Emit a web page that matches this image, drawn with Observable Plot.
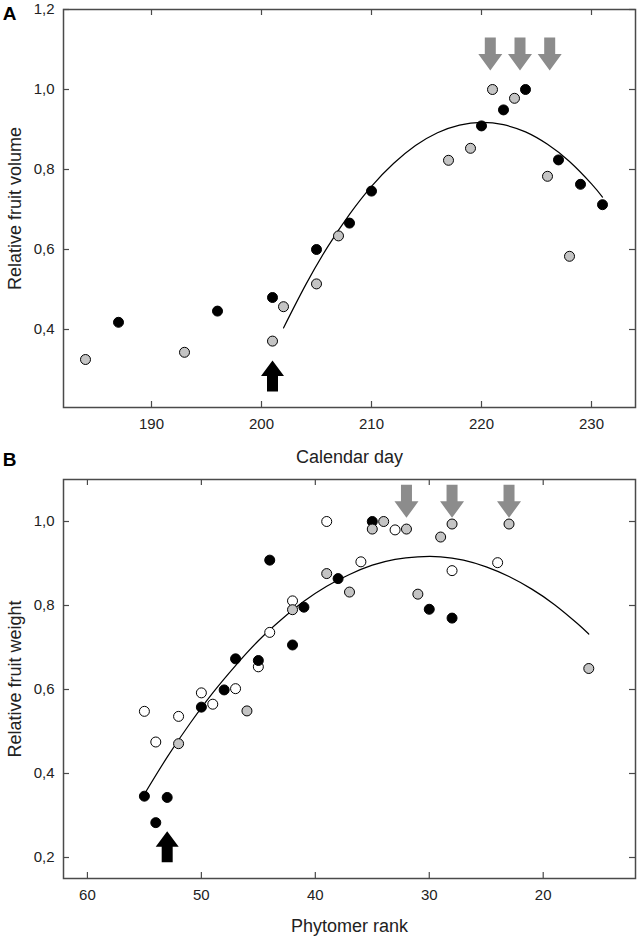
<!DOCTYPE html>
<html><head><meta charset="utf-8">
<script src="https://cdn.jsdelivr.net/npm/d3@7"></script>
<script src="https://cdn.jsdelivr.net/npm/@observablehq/plot@0.6"></script>
<style>
body{margin:0;background:#fff;font-family:"Liberation Sans",Arial,sans-serif}
svg{display:block}
</style>
</head><body><div id="chart"></div>
<script>
// ---------- Panel A data ----------
const aBlackDay = [187, 196, 201, 205, 208, 210, 220, 222, 224, 227, 229, 231];
const aBlackVal = [0.418, 0.446, 0.48, 0.6, 0.666, 0.746, 0.909, 0.949, 1.0, 0.824, 0.763, 0.712];
const aGrayDay = [184, 193, 201, 202, 205, 207, 217, 219, 221, 223, 226, 228];
const aGrayVal = [0.325, 0.343, 0.371, 0.457, 0.514, 0.634, 0.823, 0.853, 1.0, 0.978, 0.783, 0.583];
const aCurveDay = [202, 204, 206, 208, 210, 212, 214, 216, 218, 220, 222, 224, 226, 228, 230, 231];
const aCurveVal = [0.404, 0.511, 0.606, 0.688, 0.758, 0.815, 0.860, 0.892, 0.911, 0.918, 0.912, 0.894, 0.863, 0.820, 0.764, 0.731];
const aDownArrowDay = [220.8, 223.5, 226.2];
const aDownArrowVal = [1.089, 1.089, 1.089];
const aUpArrowDay = [201];
const aUpArrowVal = [0.284];
const aXTicks = [190, 200, 210, 220, 230];
const aYTicks = [0.4, 0.6, 0.8, 1.0, 1.2];

// ---------- Panel B data ----------
const bBlackRank = [55, 54, 53, 50, 48, 47, 45, 44, 42, 41, 38, 35, 30, 28];
const bBlackVal = [0.346, 0.283, 0.343, 0.558, 0.599, 0.673, 0.669, 0.908, 0.706, 0.796, 0.864, 1.0, 0.791, 0.770];
const bGrayRank = [52, 46, 42, 39, 37, 35, 34, 32, 31, 29, 28, 23, 16];
const bGrayVal = [0.471, 0.549, 0.790, 0.876, 0.832, 0.982, 1.0, 0.982, 0.827, 0.963, 0.994, 0.994, 0.65];
const bOpenRank = [55, 54, 52, 50, 49, 47, 45, 44, 42, 39, 36, 33, 28, 24];
const bOpenVal = [0.548, 0.475, 0.536, 0.592, 0.565, 0.602, 0.654, 0.736, 0.811, 1.0, 0.904, 0.980, 0.883, 0.902];
const bCurveRank = [55, 53, 51, 49, 47, 45, 43, 41, 39, 37, 35, 33, 31, 29, 27, 25, 23, 21, 19, 17, 16];
const bCurveVal = [0.351, 0.439, 0.519, 0.592, 0.657, 0.716, 0.766, 0.810, 0.846, 0.874, 0.896, 0.910, 0.916, 0.916, 0.908, 0.892, 0.869, 0.839, 0.802, 0.757, 0.732];
const bDownArrowRank = [32, 28, 23];
const bDownArrowVal = [1.048, 1.048, 1.048];
const bUpArrowRank = [53];
const bUpArrowVal = [0.2255];
const bXTicks = [60, 50, 40, 30, 20];
const bYTicks = [0.2, 0.4, 0.6, 0.8, 1.0];

// ---------- helpers ----------
const pts = (xs, ys) => xs.map((x, i) => ({x, y: ys[i]}));
const fmt = d => d.toFixed(1).replace(".", ",");
const frameColor = "#4a4a4a";
const grayArrow = "#8c8c8c";
const W = 638, ML = 63, MR = 3;

const downArrow = {draw(c) {
  c.moveTo(-5.5, -16.5); c.lineTo(5.5, -16.5); c.lineTo(5.5, 0); c.lineTo(12, 0);
  c.lineTo(0, 16.5); c.lineTo(-12, 0); c.lineTo(-5.5, 0); c.closePath();
}};
const upArrow = {draw(c) {
  c.moveTo(-5.5, 15.5); c.lineTo(5.5, 15.5); c.lineTo(5.5, 0); c.lineTo(11.5, 0);
  c.lineTo(0, -15.5); c.lineTo(-11.5, 0); c.lineTo(-5.5, 0); c.closePath();
}};

function innerTicks(xTicks, yTicks, fw, fh) {
  return [
    Plot.tickX(xTicks, {x: d => d, insetTop: fh - 6, stroke: frameColor, strokeWidth: 1.2}),
    Plot.tickX(xTicks, {x: d => d, insetBottom: fh - 6, stroke: frameColor, strokeWidth: 1.2}),
    Plot.tickY(yTicks, {y: d => d, insetRight: fw - 6, stroke: frameColor, strokeWidth: 1.2}),
    Plot.tickY(yTicks, {y: d => d, insetLeft: fw - 6, stroke: frameColor, strokeWidth: 1.2})
  ];
}

const dotStyle = {r: 5, stroke: "#000", strokeWidth: 1};
const style = {fontFamily: "'Liberation Sans', Arial, sans-serif", fontSize: "15px", color: "#222", background: "#fff", overflow: "visible"};

// ---------- Panel A ----------
const hA = 470, mtA = 9, mbA = 63;
const plotA = Plot.plot({
  width: W, height: hA, marginTop: mtA, marginBottom: mbA, marginLeft: ML, marginRight: MR,
  style,
  x: {domain: [182, 234]},
  y: {domain: [0.205, 1.2]},
  marks: [
    Plot.axisX({ticks: aXTicks, tickSize: 0, tickPadding: 11, tickFormat: d => String(d), label: null}),
    Plot.axisY({ticks: aYTicks, tickSize: 0, tickPadding: 9, tickFormat: fmt, label: null}),
    ...innerTicks(aXTicks, aYTicks, W - ML - MR, hA - mtA - mbA),
    Plot.frame({stroke: frameColor, strokeWidth: 1.5}),
    Plot.line(pts(aCurveDay, aCurveVal), {x: "x", y: "y", curve: "natural", stroke: "#000", strokeWidth: 1.2}),
    Plot.dot(pts(aBlackDay, aBlackVal), {x: "x", y: "y", fill: "#000", ...dotStyle}),
    Plot.dot(pts(aGrayDay, aGrayVal), {x: "x", y: "y", fill: "#c4c4c4", ...dotStyle}),
    Plot.dot(pts(aDownArrowDay, aDownArrowVal), {x: "x", y: "y", r: 1, symbol: downArrow, fill: grayArrow, stroke: "none"}),
    Plot.dot(pts(aUpArrowDay, aUpArrowVal), {x: "x", y: "y", r: 1, symbol: upArrow, fill: "#000", stroke: "none"}),
    Plot.text(["Calendar day"], {frameAnchor: "bottom", dy: 50, lineAnchor: "middle", fontSize: 18, fill: "#222"}),
    Plot.text(["Relative fruit volume"], {frameAnchor: "left", dx: -48, rotate: -90, textAnchor: "middle", lineAnchor: "middle", fontSize: 18, fill: "#222"}),
    Plot.text(["A"], {frameAnchor: "top-left", dx: -54, dy: 4, textAnchor: "middle", lineAnchor: "middle", fontSize: 19, fontWeight: "bold", fill: "#000"}),
    Plot.text(["B"], {frameAnchor: "bottom-left", dx: -54, dy: 52, textAnchor: "middle", lineAnchor: "middle", fontSize: 19, fontWeight: "bold", fill: "#000"})
  ]
});

// ---------- Panel B ----------
const hB = 473, mtB = 9, mbB = 65;
const plotB = Plot.plot({
  width: W, height: hB, marginTop: mtB, marginBottom: mbB, marginLeft: ML, marginRight: MR,
  style,
  x: {domain: [62.1, 11.9]},
  y: {domain: [0.15, 1.1]},
  marks: [
    Plot.axisX({ticks: bXTicks, tickSize: 0, tickPadding: 11, tickFormat: d => String(d), label: null}),
    Plot.axisY({ticks: bYTicks, tickSize: 0, tickPadding: 9, tickFormat: fmt, label: null}),
    ...innerTicks(bXTicks, bYTicks, W - ML - MR, hB - mtB - mbB),
    Plot.frame({stroke: frameColor, strokeWidth: 1.5}),
    Plot.line(pts(bCurveRank, bCurveVal), {x: "x", y: "y", curve: "natural", stroke: "#000", strokeWidth: 1.2}),
    Plot.dot(pts(bOpenRank, bOpenVal), {x: "x", y: "y", fill: "#fff", ...dotStyle}),
    Plot.dot(pts(bBlackRank, bBlackVal), {x: "x", y: "y", fill: "#000", ...dotStyle}),
    Plot.dot(pts(bGrayRank, bGrayVal), {x: "x", y: "y", fill: "#c4c4c4", ...dotStyle}),
    Plot.dot(pts(bDownArrowRank, bDownArrowVal), {x: "x", y: "y", r: 1, symbol: downArrow, fill: grayArrow, stroke: "none"}),
    Plot.dot(pts(bUpArrowRank, bUpArrowVal), {x: "x", y: "y", r: 1, symbol: upArrow, fill: "#000", stroke: "none"}),
    Plot.text(["Phytomer rank"], {frameAnchor: "bottom", dy: 48, lineAnchor: "middle", fontSize: 18, fill: "#222"}),
    Plot.text(["Relative fruit weight"], {frameAnchor: "left", dx: -48, rotate: -90, textAnchor: "middle", lineAnchor: "middle", fontSize: 18, fill: "#222"})
  ]
});

const root = document.getElementById("chart");
root.appendChild(plotA);
root.appendChild(plotB);
</script></body></html>
